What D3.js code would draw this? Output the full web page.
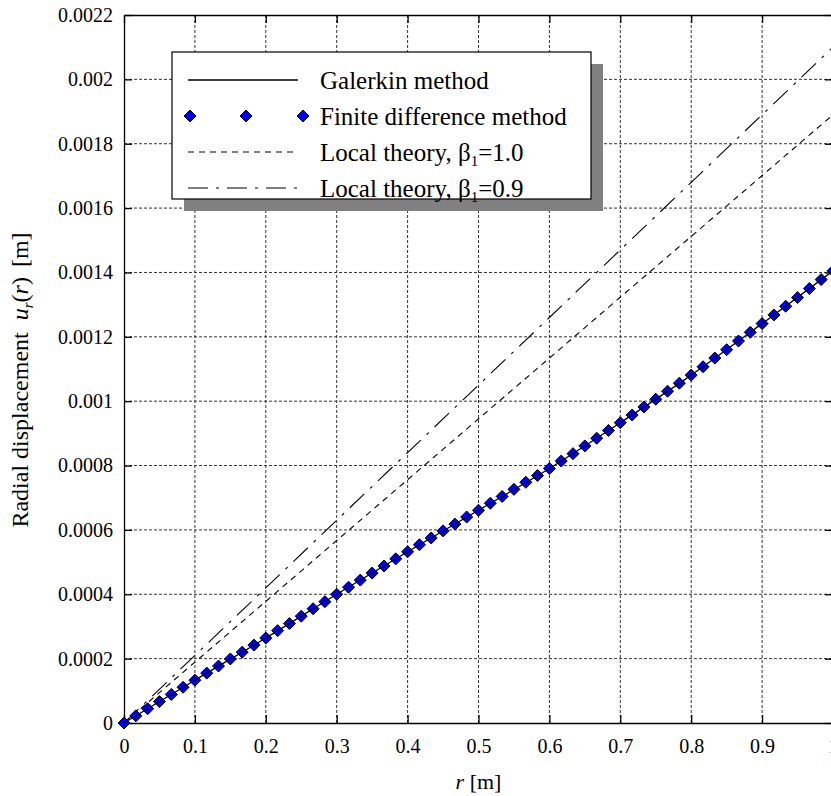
<!DOCTYPE html>
<html lang="en">
<head>
    <meta charset="UTF-8">
    <title>Radial displacement</title>
    <script src="https://d3js.org/d3.v7.min.js"></script>
    <style>
        body { margin: 0; background: #fff; }
        svg { display: block; font-family: "Liberation Serif", "Times New Roman", serif; }
        .grid line { stroke: #333; stroke-dasharray: 3,2; stroke-width: 1; }
    </style>
</head>
<body>
    <svg id="chart"></svg>

    <script>
        const width = 831, height = 796;

        // r values [m]
        const rGalerkin = [0, 0.1, 0.2, 0.3, 0.4, 0.5, 0.6, 0.7, 0.8, 0.9, 1.0];
        const uGalerkin = [0, 0.000133, 0.000264, 0.000400, 0.000532, 0.000661, 0.000791, 0.000933, 0.001081, 0.001241, 0.001405];

        // finite difference nodes, r = i/60
        const rFD = [0, 0.0167, 0.0333, 0.05, 0.0667, 0.0833, 0.1, 0.1167, 0.1333, 0.15, 0.1667, 0.1833,
            0.2, 0.2167, 0.2333, 0.25, 0.2667, 0.2833, 0.3, 0.3167, 0.3333, 0.35, 0.3667, 0.3833,
            0.4, 0.4167, 0.4333, 0.45, 0.4667, 0.4833, 0.5, 0.5167, 0.5333, 0.55, 0.5667, 0.5833,
            0.6, 0.6167, 0.6333, 0.65, 0.6667, 0.6833, 0.7, 0.7167, 0.7333, 0.75, 0.7667, 0.7833,
            0.8, 0.8167, 0.8333, 0.85, 0.8667, 0.8833, 0.9, 0.9167, 0.9333, 0.95, 0.9667, 0.9833, 1.0];
        const uFD = [0, 0.0000222, 0.0000443, 0.0000665, 0.0000887, 0.000111, 0.000133, 0.000155, 0.000177, 0.000199, 0.000220, 0.000242,
            0.000264, 0.000287, 0.000309, 0.000332, 0.000355, 0.000377, 0.000400, 0.000422, 0.000444, 0.000466, 0.000488, 0.000510,
            0.000532, 0.000554, 0.000575, 0.000597, 0.000618, 0.000640, 0.000661, 0.000683, 0.000704, 0.000726, 0.000748, 0.000769,
            0.000791, 0.000814, 0.000837, 0.000861, 0.000885, 0.000909, 0.000933, 0.000957, 0.000982, 0.001006, 0.001031, 0.001056,
            0.001081, 0.001107, 0.001134, 0.001160, 0.001187, 0.001214, 0.001241, 0.001268, 0.001295, 0.001322, 0.001350, 0.001378, 0.001405];

        const rLocal = [0, 0.2, 0.4, 0.6, 0.8, 1.0];
        const uLocal10 = [0, 0.000378, 0.000756, 0.001134, 0.001512, 0.00189];
        const uLocal09 = [0, 0.00042, 0.00084, 0.00126, 0.00168, 0.0021];

        const xTicks = [0, 0.1, 0.2, 0.3, 0.4, 0.5, 0.6, 0.7, 0.8, 0.9, 1];
        const xTickLabels = ["0", "0.1", "0.2", "0.3", "0.4", "0.5", "0.6", "0.7", "0.8", "0.9", "1"];
        const yTicks = [0, 0.0002, 0.0004, 0.0006, 0.0008, 0.001, 0.0012, 0.0014, 0.0016, 0.0018, 0.002, 0.0022];
        const yTickLabels = ["0", "0.0002", "0.0004", "0.0006", "0.0008", "0.001", "0.0012", "0.0014", "0.0016", "0.0018", "0.002", "0.0022"];

        const legendLabels = ["Galerkin method", "Finite difference method", "Local theory, β", "Local theory, β"];
        const legendBeta = [null, null, "=1.0", "=0.9"];

        const margin = { top: 15, right: -2, bottom: 73, left: 124 };
        const plotW = width - margin.left - margin.right;
        const plotH = height - margin.top - margin.bottom;

        const svg = d3.select("#chart")
            .attr("width", width)
            .attr("height", height);

        const x = d3.scaleLinear().domain([0, 1]).range([margin.left, margin.left + plotW]);
        const y = d3.scaleLinear().domain([0, 0.0022]).range([margin.top + plotH, margin.top]);

        // grid
        const grid = svg.append("g").attr("class", "grid");
        grid.selectAll(".gx")
            .data(xTicks.slice(1, -1))
            .join("line")
            .attr("x1", d => x(d)).attr("x2", d => x(d))
            .attr("y1", y(0)).attr("y2", y(0.0022));
        grid.selectAll(".gy")
            .data(yTicks.slice(1, -1))
            .join("line")
            .attr("class", "gy")
            .attr("x1", x(0)).attr("x2", x(1))
            .attr("y1", d => y(d)).attr("y2", d => y(d));

        // axes with inward ticks
        const fmtX = d => xTickLabels[xTicks.indexOf(d)];
        const fmtY = d => yTickLabels[yTicks.indexOf(d)];

        svg.append("g")
            .attr("transform", `translate(0,${y(0)})`)
            .call(d3.axisBottom(x).tickValues(xTicks).tickFormat(fmtX).tickSizeInner(-8).tickSizeOuter(0).tickPadding(16));
        svg.append("g")
            .attr("transform", `translate(${x(0)},0)`)
            .call(d3.axisLeft(y).tickValues(yTicks).tickFormat(fmtY).tickSizeInner(-8).tickSizeOuter(0).tickPadding(11));
        svg.append("g")
            .attr("transform", `translate(0,${y(0.0022)})`)
            .call(d3.axisTop(x).tickValues(xTicks).tickFormat("").tickSizeInner(-8).tickSizeOuter(0));
        svg.append("g")
            .attr("transform", `translate(${x(1)},0)`)
            .call(d3.axisRight(y).tickValues(yTicks).tickFormat("").tickSizeInner(-8).tickSizeOuter(0));

        svg.selectAll(".domain").attr("stroke", "#000").attr("stroke-width", 1.3);
        svg.selectAll(".tick line").attr("stroke", "#000").attr("stroke-width", 1.3);
        svg.selectAll(".tick text")
            .attr("fill", "#000")
            .style("font-family", "'Liberation Serif', 'Times New Roman', serif")
            .style("font-size", "20px");

        // local theory lines
        const line = d3.line().x(d => x(d[0])).y(d => y(d[1]));
        svg.append("path")
            .datum(d3.zip(rLocal, uLocal10))
            .attr("d", line)
            .attr("fill", "none")
            .attr("stroke", "#000")
            .attr("stroke-width", 1.1)
            .attr("stroke-dasharray", "6,5");
        svg.append("path")
            .datum(d3.zip(rLocal, uLocal09))
            .attr("d", line)
            .attr("fill", "none")
            .attr("stroke", "#000")
            .attr("stroke-width", 1.1)
            .attr("stroke-dasharray", "20,8,3,8");

        // finite difference markers
        const diamond = s => `M0,${-s}L${s},0L0,${s}L${-s},0Z`;
        svg.append("g")
            .selectAll("path")
            .data(d3.zip(rFD, uFD))
            .join("path")
            .attr("d", diamond(6))
            .attr("transform", d => `translate(${x(d[0])},${y(d[1])})`)
            .attr("fill", "#0000ee")
            .attr("stroke", "#000")
            .attr("stroke-width", 1);

        // Galerkin line
        svg.append("path")
            .datum(d3.zip(rGalerkin, uGalerkin))
            .attr("d", line.curve(d3.curveMonotoneX))
            .attr("fill", "none")
            .attr("stroke", "#000")
            .attr("stroke-width", 1.3);

        // axis titles
        svg.append("text")
            .attr("x", x(0.5))
            .attr("y", 789)
            .attr("text-anchor", "middle")
            .style("font-size", "22px")
            .html('<tspan font-style="italic">r</tspan> [m]');

        const yTitle = svg.append("text")
            .attr("transform", "translate(28,380) rotate(-90)")
            .attr("text-anchor", "middle")
            .style("font-size", "24px");
        yTitle.append("tspan").text("Radial displacement ");
        yTitle.append("tspan").attr("dx", 6).attr("font-style", "italic").text("u");
        yTitle.append("tspan").attr("font-style", "italic").attr("font-size", "15px").attr("dy", 5).text("r");
        yTitle.append("tspan").attr("dy", -5).text("(");
        yTitle.append("tspan").attr("font-style", "italic").text("r");
        yTitle.append("tspan").text(")");
        yTitle.append("tspan").attr("dx", 10).text("[m]");

        // legend
        const lg = { x: 172, y: 52, w: 419, h: 147, shadow: 12 };
        svg.append("rect")
            .attr("x", lg.x + lg.shadow).attr("y", lg.y + lg.shadow)
            .attr("width", lg.w).attr("height", lg.h)
            .attr("fill", "#808080");
        svg.append("rect")
            .attr("x", lg.x).attr("y", lg.y)
            .attr("width", lg.w).attr("height", lg.h)
            .attr("fill", "#fff")
            .attr("stroke", "#000")
            .attr("stroke-width", 1.2);

        const rowY = i => lg.y + 28 + i * 36;
        const sx0 = 188, sx1 = 298, tx = 320;

        svg.append("line")
            .attr("x1", sx0).attr("x2", sx1).attr("y1", rowY(0)).attr("y2", rowY(0))
            .attr("stroke", "#000").attr("stroke-width", 1.3);
        svg.append("g")
            .selectAll("path")
            .data([sx0 + 2, (sx0 + sx1) / 2 + 3, sx1 + 5])
            .join("path")
            .attr("d", diamond(6))
            .attr("transform", d => `translate(${d},${rowY(1)})`)
            .attr("fill", "#0000ee")
            .attr("stroke", "#000");
        svg.append("line")
            .attr("x1", sx0).attr("x2", sx1).attr("y1", rowY(2)).attr("y2", rowY(2))
            .attr("stroke", "#000").attr("stroke-width", 1.1).attr("stroke-dasharray", "6,5");
        svg.append("line")
            .attr("x1", sx0).attr("x2", sx1).attr("y1", rowY(3)).attr("y2", rowY(3))
            .attr("stroke", "#000").attr("stroke-width", 1.1).attr("stroke-dasharray", "20,8,3,8");

        legendLabels.forEach((label, i) => {
            const t = svg.append("text")
                .attr("x", tx)
                .attr("y", rowY(i))
                .attr("dy", "0.35em")
                .style("font-size", "25px")
                .text(label);
            if (legendBeta[i]) {
                t.append("tspan").attr("font-size", "15px").attr("dy", 5).text("1");
                t.append("tspan").attr("dy", -5).text(legendBeta[i]);
            }
        });
    </script>
</body>
</html>
